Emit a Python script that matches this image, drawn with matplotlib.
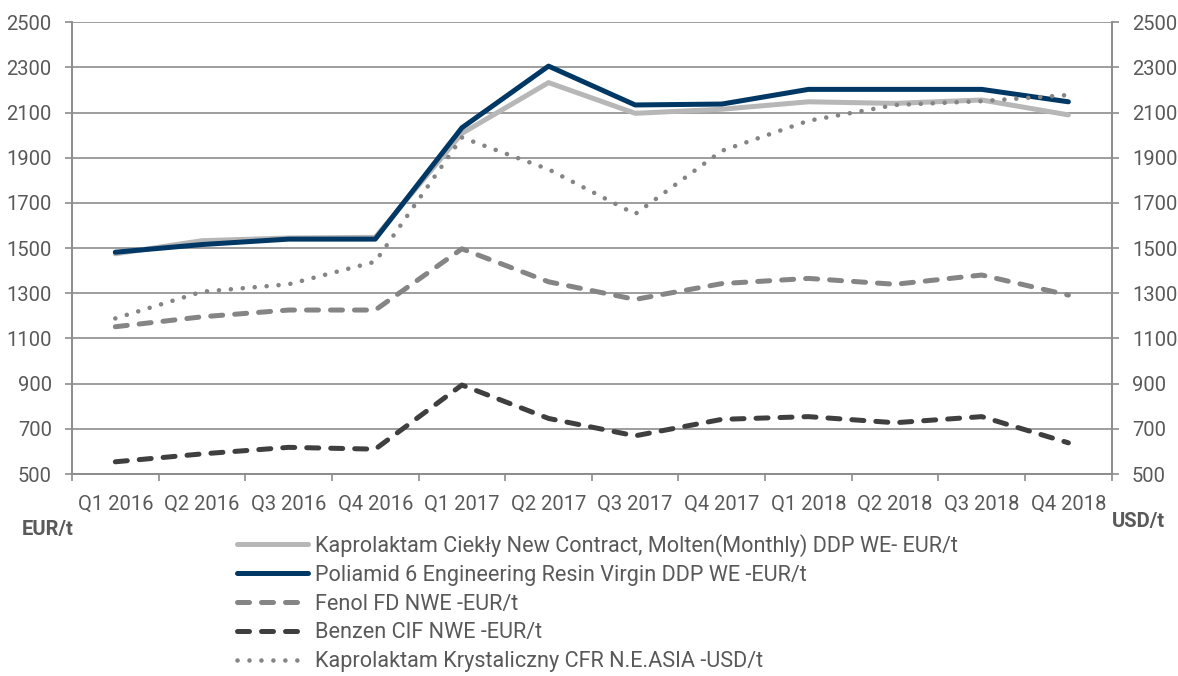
import numpy as np
import matplotlib
matplotlib.use('Agg')
from matplotlib import pyplot as plt

quarters = ['Q1 2016', 'Q2 2016', 'Q3 2016', 'Q4 2016',
            'Q1 2017', 'Q2 2017', 'Q3 2017', 'Q4 2017',
            'Q1 2018', 'Q2 2018', 'Q3 2018', 'Q4 2018']

kaprolaktam_ciekly = [1475, 1533, 1545, 1548, 2008, 2233, 2097, 2115, 2148, 2141, 2156, 2090]
poliamid_6 = [1482, 1516, 1540, 1540, 2033, 2306, 2134, 2138, 2203, 2203, 2203, 2148]
fenol = [1152, 1196, 1226, 1226, 1497, 1351, 1273, 1343, 1366, 1340, 1381, 1292]
benzen = [554, 589, 618, 610, 894, 746, 669, 742, 754, 727, 754, 638]
kaprolaktam_kryst_usd = [1189, 1307, 1340, 1440, 1990, 1849, 1651, 1931, 2064, 2134, 2151, 2178]

labels = ['Kaprolaktam Ciekły New Contract, Molten(Monthly) DDP WE- EUR/t',
          'Poliamid 6 Engineering Resin Virgin DDP WE -EUR/t',
          'Fenol FD NWE -EUR/t',
          'Benzen CIF NWE -EUR/t',
          'Kaprolaktam Krystaliczny CFR N.E.ASIA -USD/t']

plt.rcParams['font.family'] = ['Roboto', 'DejaVu Sans']
text_col = '#595959'
grid_col = '#8c8c8c'

fig = plt.figure(figsize=(11.78, 6.76), dpi=100)
ax = fig.add_axes([72 / 1178, 1 - 474 / 676, (1111.7 - 72) / 1178, (474 - 22.3) / 676])
ax2 = ax.twinx()

styles = [
    dict(color='#b7b7b7', lw=3.6, ls='-'),
    dict(color='#003865', lw=3.6, ls='-'),
    dict(color='#858585', lw=3.6, ls=(0, (2.4, 2.4))),
    dict(color='#3f3f3f', lw=3.6, ls=(0, (2.4, 2.4))),
    dict(color='#858585', lw=3.3, ls=(0, (0.01, 2.6))),
]
series = [kaprolaktam_ciekly, poliamid_6, fenol, benzen, kaprolaktam_kryst_usd]
axes_for = [ax, ax, ax, ax, ax2]

x = np.arange(len(quarters))
handles = []
for vals, st, a, lab in zip(series, styles, axes_for, labels):
    line, = a.plot(x, vals, color=st['color'], lw=st['lw'], linestyle=st['ls'],
                   dash_capstyle='round', solid_capstyle='round',
                   dash_joinstyle='round', solid_joinstyle='round', label=lab)
    handles.append(line)

yticks = np.arange(500, 2501, 200)
for a in (ax, ax2):
    a.set_xlim(-0.5, len(quarters) - 0.5)
    a.set_ylim(500, 2500)
    a.set_yticks(yticks)
    for s in a.spines.values():
        s.set_color(grid_col)
        s.set_linewidth(1.2)
    a.spines['top'].set_visible(False)

ax.yaxis.grid(True, color=grid_col, lw=1.2)
ax.set_axisbelow(True)
ax.set_xticks(x)
ax.set_xticklabels(quarters)
ax.set_xticks(np.arange(len(quarters) + 1) - 0.5, minor=True)
ax.tick_params(axis='x', which='major', length=0, pad=15, labelsize=14.5, labelcolor=text_col)
ax.tick_params(axis='x', which='minor', length=5, width=1.2, color=grid_col)
ax.tick_params(axis='y', length=5, width=1.2, color=grid_col, pad=9.5, labelsize=14.5, labelcolor=text_col)
ax2.tick_params(axis='y', length=5, width=1.2, color=grid_col, pad=9.5, labelsize=14.5, labelcolor=text_col)

fig.text(21.7 / 1178, 1 - 530 / 676, 'EUR/t', fontsize=14.5, fontweight='bold', color=text_col,
         ha='left', va='center')
fig.text(1111.7 / 1178, 1 - 521 / 676, 'USD/t', fontsize=14.5, fontweight='bold', color=text_col,
         ha='left', va='center')

fig.legend(handles=handles, loc='upper left', bbox_to_anchor=(236.7 / 1178, 1 - 534 / 676),
           frameon=False, fontsize=15.6, labelcolor=text_col, handlelength=3.3,
           handletextpad=0.31, labelspacing=0.36, borderpad=0, borderaxespad=0)

fig.savefig('out.png', dpi=100)
